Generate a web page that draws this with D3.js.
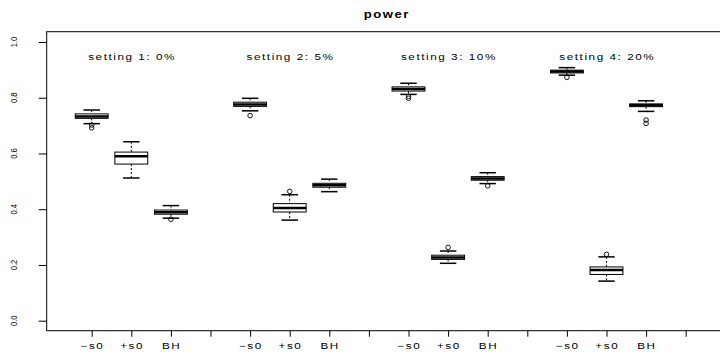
<!DOCTYPE html>
<html>
<head>
<meta charset="utf-8">
<script src="https://cdn.jsdelivr.net/npm/d3@7"></script>
<style>
  body { margin: 0; background: #fff; }
  svg { display: block; }
  text { font-family: "Liberation Sans", Arial, sans-serif; fill: #000; }
</style>
</head>
<body>
<svg id="chart"></svg>
<script>
var w = 720;
var h = 352;

// data
var settings = ["setting 1: 0%", "setting 2: 5%", "setting 3: 10%", "setting 4: 20%"];
var methods = ["\u2212s0", "+s0", "BH"];
var yTicks = [0, 0.2, 0.4, 0.6, 0.8, 1.0];

var whiskLo = [0.707, 0.512, 0.368, 0.753, 0.361, 0.463, 0.812, 0.206, 0.492, 0.881, 0.142, 0.751];
var q1      = [0.726, 0.562, 0.382, 0.769, 0.390, 0.479, 0.824, 0.220, 0.504, 0.889, 0.166, 0.768];
var med     = [0.733, 0.590, 0.389, 0.776, 0.404, 0.486, 0.831, 0.227, 0.510, 0.894, 0.182, 0.773];
var q3      = [0.742, 0.605, 0.397, 0.784, 0.420, 0.493, 0.839, 0.235, 0.517, 0.899, 0.193, 0.778];
var whiskHi = [0.756, 0.642, 0.413, 0.798, 0.452, 0.508, 0.852, 0.250, 0.531, 0.908, 0.229, 0.789];
var outliers = [[0.702, 0.692], [], [0.364], [0.736], [0.464], [], [0.805, 0.798], [0.263], [0.484], [0.873], [0.238], [0.720, 0.708]];

// box positions 1..15 with a gap after each group of three
var boxes = d3.range(12).map(function (i) {
  var g = Math.floor(i / 3);
  return {
    pos: g * 4 + (i % 3) + 1,
    lo: whiskLo[i], q1: q1[i], med: med[i], q3: q3[i], hi: whiskHi[i],
    out: outliers[i],
    label: methods[i % 3]
  };
});

var x = d3.scaleLinear().domain([1, 16]).range([91.7, 685.7]);
var y = d3.scaleLinear().domain([0, 1]).range([320.7, 42]);
var step = x(2) - x(1);
var bw = step * 0.83;

var svg = d3.select('#chart').attr('width', w).attr('height', h);

// slightly wide, spaced text like the original raster
function label(sel, size, sx, ls, weight) {
  sel.append('text')
    .attr('text-anchor', 'middle')
    .attr('dominant-baseline', 'central')
    .attr('font-size', size)
    .attr('font-weight', weight || 'normal')
    .attr('letter-spacing', ls)
    .attr('dx', ls / 2)
    .text(function (d) { return d.text; });
  sel.attr('transform', function (d) {
    return 'translate(' + d.x + ',' + d.y + ') scale(' + sx + ',1)';
  });
}

// plot frame
svg.append('rect')
  .attr('x', 46.7).attr('y', 31.7)
  .attr('width', 720).attr('height', 299)
  .attr('fill', 'none').attr('stroke', '#000').attr('stroke-width', 1);

// y axis
var yAxis = svg.append('g')
  .attr('transform', 'translate(46.7,0)')
  .call(d3.axisLeft(y).tickValues(yTicks).tickFormat(d3.format('.1f')).tickSize(8).tickPadding(0));
yAxis.select('.domain').remove();
yAxis.selectAll('text').remove();
yAxis.selectAll('line').attr('stroke', '#000');

svg.selectAll('.ylab')
  .data(yTicks)
  .enter()
  .append('text')
  .attr('class', 'ylab')
  .attr('font-size', 8.5)
  .attr('text-anchor', 'middle')
  .attr('dominant-baseline', 'central')
  .attr('transform', function (d) { return 'translate(14,' + y(d) + ') rotate(-90) scale(0.9,1)'; })
  .text(function (d) { return d3.format('.1f')(d); });

// x axis ticks
var xAxis = svg.append('g')
  .attr('transform', 'translate(0,330.7)')
  .call(d3.axisBottom(x).tickValues(d3.range(1, 17)).tickSize(6).tickFormat(''));
xAxis.select('.domain').remove();
xAxis.selectAll('line').attr('stroke', '#000');

// x labels
svg.selectAll('.xlab')
  .data(boxes.map(function (b) { return { text: b.label, x: x(b.pos), y: 346 }; }))
  .enter()
  .append('g')
  .attr('class', 'xlab')
  .call(label, 9, 1.3, 1.2);

// title
svg.selectAll('.title')
  .data([{ text: 'power', x: 386, y: 14 }])
  .enter()
  .append('g')
  .attr('class', 'title')
  .call(label, 10.5, 1.25, 1.2, 'bold');

// setting labels
svg.selectAll('.setting')
  .data(settings.map(function (s, i) { return { text: s, x: x(i * 4 + 2), y: 57 }; }))
  .enter()
  .append('g')
  .attr('class', 'setting')
  .call(label, 9, 1.3, 1.2);

// boxes
var bx = svg.selectAll('.box')
  .data(boxes)
  .enter()
  .append('g')
  .attr('class', 'box');

// whiskers
bx.append('line')
  .attr('x1', function (d) { return x(d.pos); })
  .attr('x2', function (d) { return x(d.pos); })
  .attr('y1', function (d) { return y(d.hi); })
  .attr('y2', function (d) { return y(d.q3); })
  .attr('stroke', '#000').attr('stroke-dasharray', '2,2');
bx.append('line')
  .attr('x1', function (d) { return x(d.pos); })
  .attr('x2', function (d) { return x(d.pos); })
  .attr('y1', function (d) { return y(d.q1); })
  .attr('y2', function (d) { return y(d.lo); })
  .attr('stroke', '#000').attr('stroke-dasharray', '2,2');

// staples
['hi', 'lo'].forEach(function (k) {
  bx.append('line')
    .attr('x1', function (d) { return x(d.pos) - bw / 4; })
    .attr('x2', function (d) { return x(d.pos) + bw / 4; })
    .attr('y1', function (d) { return y(d[k]); })
    .attr('y2', function (d) { return y(d[k]); })
    .attr('stroke', '#000').attr('stroke-width', 1.5);
});

// box body
bx.append('rect')
  .attr('x', function (d) { return x(d.pos) - bw / 2; })
  .attr('y', function (d) { return y(d.q3); })
  .attr('width', bw)
  .attr('height', function (d) { return y(d.q1) - y(d.q3); })
  .attr('fill', '#fff')
  .attr('stroke', '#000').attr('stroke-width', 1);

// median
bx.append('line')
  .attr('x1', function (d) { return x(d.pos) - bw / 2; })
  .attr('x2', function (d) { return x(d.pos) + bw / 2; })
  .attr('y1', function (d) { return y(d.med); })
  .attr('y2', function (d) { return y(d.med); })
  .attr('stroke', '#000').attr('stroke-width', 2.5);

// outliers
bx.selectAll('circle')
  .data(function (d) { return d.out.map(function (v) { return { pos: d.pos, v: v }; }); })
  .enter()
  .append('circle')
  .attr('cx', function (d) { return x(d.pos); })
  .attr('cy', function (d) { return y(d.v); })
  .attr('r', 2.3)
  .attr('fill', 'none')
  .attr('stroke', '#000').attr('stroke-width', 0.9);
</script>
</body>
</html>
